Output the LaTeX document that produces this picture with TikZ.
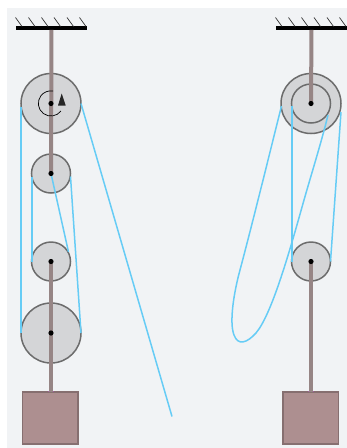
\documentclass[tikz,border=0pt]{standalone}
\usetikzlibrary{calc}
\definecolor{bgc}{HTML}{F1F3F5}
\definecolor{pfill}{HTML}{D4D5D7}
\definecolor{pline}{HTML}{6C6C6C}
\definecolor{rodc}{HTML}{968585}
\definecolor{boxc}{HTML}{AD8F90}
\definecolor{boxl}{HTML}{866F70}
\definecolor{ropec}{HTML}{66CCF5}
\definecolor{tipc}{HTML}{A05CA0}
\tikzset{
  pulley/.style={circle,draw=pline,fill=pfill,line width=1.5pt,inner sep=0pt,outer sep=0pt,minimum size=#1},
  axle/.style={circle,fill=black,inner sep=0pt,outer sep=0pt,minimum size=5.2pt},
  weight/.style={rectangle,draw=boxl,fill=boxc,line width=1.5pt,inner sep=0pt,outer sep=0pt,minimum width=55.5pt,minimum height=52pt},
  rod/.style={draw=rodc,line width=4pt},
  rope/.style={draw=ropec,line width=1.5pt},
  beam/.style={rectangle,fill=black,inner sep=0pt,outer sep=0pt,minimum width=71pt,minimum height=3.8pt},
  hatch/.style={draw=black!80,line width=.7pt},
  tipmark/.style={draw=tipc,line width=1pt}
}
\begin{document}
\begin{tikzpicture}[x=1pt,y=-1pt]
\useasboundingbox (0,0) rectangle (347,448);
\fill[bgc] (7,8) rectangle (347,448);
\clip (0,0) rectangle (347,448);
% beams
\node[beam] (beamL) at (51.5,28) {};
\node[beam] (beamR) at (311.5,28) {};
\foreach \n/\x in {a/15.5,b/28.5,c/41.5,d/54,e/67,f/79.5,g/275.5,h/288.5,i/301.5,j/314,k/327,l/339.5}
  {\coordinate (h\n) at (\x,17.5); \draw[hatch] (h\n) -- ++(6.5,9);}
% pulleys
\node[pulley=60pt] (P1) at (51,103.5) {};
\node[pulley=39pt] (P2) at (51,173.5) {};
\node[pulley=39pt] (P3) at (51,261.5) {};
\node[pulley=60pt] (P4) at (51,333) {};
\node[pulley=60pt] (Q1) at (311,103.5) {};
\node[pulley=39pt] (Q2) at (311,103.5) {};
\node[pulley=39pt] (Q3) at (311,261.5) {};
\node[weight] (W1) at (50.3,418) {};
\node[weight] (W2) at (310.7,418) {};
\coordinate (endL) at (172,416.5);
% rods
\path[rod] (beamL.south) -- (P2.center);
\path[rod] (P3.center) -- (W1.north -| P3.center);
\path[rod] (beamR.south) -- (Q1.center);
\path[rod] (Q3.center) -- (W2.north -| Q3.center);
\draw[tipmark] (48,391.3) -- (49.3,391.3) (52.7,391.3) -- (54,391.3);
\draw[tipmark] (308,391.3) -- (309.3,391.3) (312.7,391.3) -- (314,391.3);
% ropes
\path[rope] (P1.west) ++(0,3) -- (P4.west);
\path[rope] (P2.west) ++(0.6,3) -- ($(P3.west)+(0.6,0)$);
\path[rope] (P2.east) ++(0,3) -- (P4.east);
\path[rope] (P2.center) -- (68.5,252);
\path[rope] (P1.east) -- (endL);
\path[rope] (Q2.west) ++(0.6,2) -- ($(Q3.west)+(0.6,0)$);
\path[rope] (341,112) -- (Q3.east);
\path[rope] (281.5,106) .. controls (268,160) and (252,225) .. (240,270)
  .. controls (234,292) and (229,322) .. (234,335)
  .. controls (238,346) and (247,343) .. (256,333)
  .. controls (272,314) and (290,250) .. (304,200)
  .. controls (312,172) and (322,140) .. (328,115);
% rotation mark
\draw[black,line width=.7pt] (61,111) arc[start angle=37,end angle=280,radius=12.6];
\coordinate (ar1) at (58,105.5);
\coordinate (ar2) at (65.7,105.5);
\coordinate (ar3) at (61.7,93.5);
\fill[black!85] (ar1) -- (ar2) -- (ar3) -- cycle;
% axles
\foreach \p in {P1,P2,P3,P4,Q1,Q3} \node[axle] at (\p.center) {};
\end{tikzpicture}
\end{document}
